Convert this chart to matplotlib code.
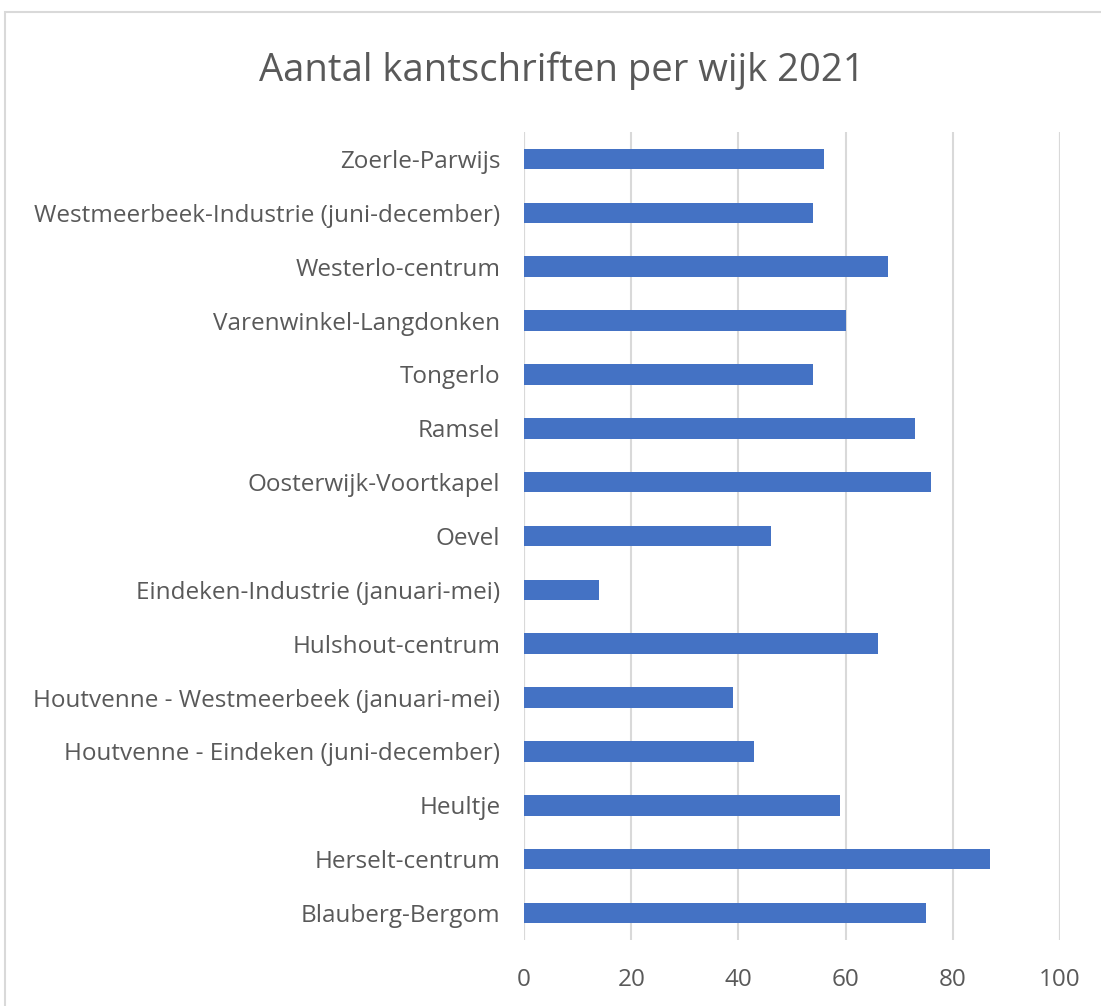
import matplotlib.pyplot as plt
from matplotlib.patches import Rectangle

# Data (top to bottom as shown in the chart)
wijken = [
    "Zoerle-Parwijs",
    "Westmeerbeek-Industrie (juni-december)",
    "Westerlo-centrum",
    "Varenwinkel-Langdonken",
    "Tongerlo",
    "Ramsel",
    "Oosterwijk-Voortkapel",
    "Oevel",
    "Eindeken-Industrie (januari-mei)",
    "Hulshout-centrum",
    "Houtvenne - Westmeerbeek (januari-mei)",
    "Houtvenne - Eindeken (juni-december)",
    "Heultje",
    "Herselt-centrum",
    "Blauberg-Bergom",
]
aantal = [56, 54, 68, 60, 54, 73, 76, 46, 14, 66, 39, 43, 59, 87, 75]
x_ticks = [0, 20, 40, 60, 80, 100]

text_color = "#595959"
grid_color = "#D9D9D9"
bar_color = "#4472C4"

plt.rcParams["font.family"] = ["Open Sans", "DejaVu Sans"]

fig = plt.figure(figsize=(11.01, 10.06), dpi=100)
ax = fig.add_axes([524 / 1101, 1 - 940 / 1006, 536 / 1101, 808 / 1006])

# chart area border
fig.patches.append(
    Rectangle((5 / 1101, -0.05), 1.2, 1 - 12 / 1006 + 0.05,
              transform=fig.transFigure, fill=False,
              edgecolor=grid_color, linewidth=1.5)
)

y = list(range(len(wijken)))
ax.barh(y, aantal, height=0.38, color=bar_color, zorder=3)

ax.set_xlim(0, 100)
ax.set_ylim(len(wijken) - 0.5, -0.5)
ax.set_xticks(x_ticks)
ax.set_xticklabels([str(t) for t in x_ticks], fontsize=17.5, color=text_color)
ax.set_yticks(y)
ax.set_yticklabels(wijken, fontsize=17.5, color=text_color)
ax.tick_params(axis="both", length=0)
ax.tick_params(axis="x", pad=20)
ax.tick_params(axis="y", pad=17)

ax.grid(axis="x", color=grid_color, linewidth=1.5, zorder=0)
ax.axvline(0, color=grid_color, linewidth=1.5, zorder=0)
ax.axvline(100, color=grid_color, linewidth=1.5, zorder=0)
for s in ax.spines.values():
    s.set_visible(False)

fig.text(562 / 1101, 1 - 71 / 1006, "Aantal kantschriften per wijk 2021",
         ha="center", va="center", fontsize=27.5, color=text_color)

fig.savefig("out.png", dpi=100, facecolor="white")
